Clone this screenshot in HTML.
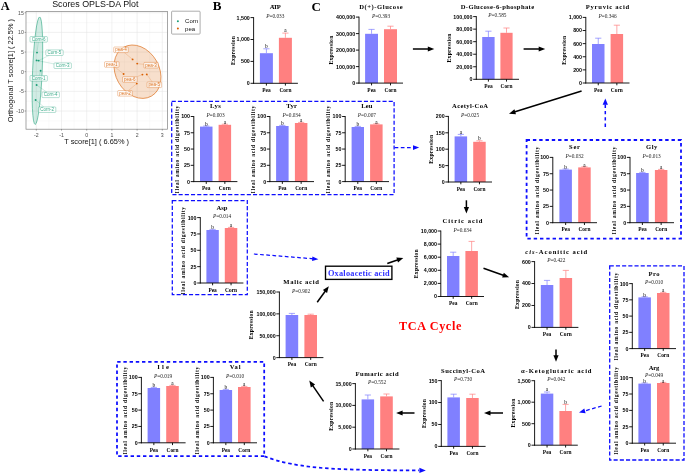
<!DOCTYPE html>
<html><head><meta charset="utf-8"><title>Figure</title>
<style>html,body{margin:0;padding:0;background:#fff;}svg{display:block;will-change:transform}text{white-space:pre}</style></head>
<body><svg width="685" height="474" viewBox="0 0 685 474">
<rect width="685" height="474" fill="#fff"/>
<rect x="26.0" y="11.6" width="141.4" height="117.6" fill="#fff"/>
<path d="M48.90 11.6V129.2M74.10 11.6V129.2M99.30 11.6V129.2M124.50 11.6V129.2M149.70 11.6V129.2M26.0 120.83H167.4M26.0 101.18H167.4M26.0 81.53H167.4M26.0 61.88H167.4M26.0 42.23H167.4M26.0 22.58H167.4" stroke="#f3f3f3" stroke-width="0.4" fill="none"/>
<path d="M36.30 11.6V129.2M61.50 11.6V129.2M86.70 11.6V129.2M111.90 11.6V129.2M137.10 11.6V129.2M162.30 11.6V129.2M26.0 111.00H167.4M26.0 91.35H167.4M26.0 71.70H167.4M26.0 52.05H167.4M26.0 32.40H167.4M26.0 12.75H167.4" stroke="#e6e6e6" stroke-width="0.55" fill="none"/>
<ellipse cx="37.4" cy="70.7" rx="4.8" ry="53.8" transform="rotate(2.4 37.4 70.7)" fill="#1b9e77" fill-opacity="0.2" stroke="#1b9e77" stroke-width="0.55"/>
<ellipse cx="137.5" cy="71.7" rx="28.1" ry="21.8" transform="rotate(60.4 137.5 71.7)" fill="#d95f02" fill-opacity="0.2" stroke="#d95f02" stroke-width="0.55"/>
<path d="M37 52.6L38.34 42.10M38.6 60.6L48.86 55.50M36.6 60.4L54.00 63.93M40.6 70.8L39.41 75.50M36.6 85L46.67 92.00M35.6 100L43.78 106.90" stroke="#1b9e77" stroke-width="0.35" fill="none" stroke-opacity="0.55"/>
<circle cx="37" cy="52.6" r="0.95" fill="#1b9e77"/>
<circle cx="36.6" cy="60.4" r="0.95" fill="#1b9e77"/>
<circle cx="38.6" cy="60.6" r="0.95" fill="#1b9e77"/>
<circle cx="40.6" cy="70.8" r="0.95" fill="#1b9e77"/>
<circle cx="36.6" cy="85" r="0.95" fill="#1b9e77"/>
<circle cx="35.6" cy="100" r="0.95" fill="#1b9e77"/>
<rect x="30.00" y="36.50" width="17.4" height="5.6" rx="0.9" fill="#fff" fill-opacity="0.65" stroke="#1b9e77" stroke-width="0.4" stroke-opacity="0.8"/>
<text x="38.70" y="40.85" font-family="Liberation Sans" font-size="4.5" text-anchor="middle" fill="#1b9e77" fill-opacity="0.85">Corn-6</text>
<rect x="45.80" y="49.90" width="17.4" height="5.6" rx="0.9" fill="#fff" fill-opacity="0.65" stroke="#1b9e77" stroke-width="0.4" stroke-opacity="0.8"/>
<text x="54.50" y="54.25" font-family="Liberation Sans" font-size="4.5" text-anchor="middle" fill="#1b9e77" fill-opacity="0.85">Corn-5</text>
<rect x="54.00" y="62.90" width="17.4" height="5.6" rx="0.9" fill="#fff" fill-opacity="0.65" stroke="#1b9e77" stroke-width="0.4" stroke-opacity="0.8"/>
<text x="62.70" y="67.25" font-family="Liberation Sans" font-size="4.5" text-anchor="middle" fill="#1b9e77" fill-opacity="0.85">Corn-3</text>
<rect x="30.00" y="75.50" width="17.4" height="5.6" rx="0.9" fill="#fff" fill-opacity="0.65" stroke="#1b9e77" stroke-width="0.4" stroke-opacity="0.8"/>
<text x="38.70" y="79.85" font-family="Liberation Sans" font-size="4.5" text-anchor="middle" fill="#1b9e77" fill-opacity="0.85">Corn-1</text>
<rect x="42.00" y="92.00" width="17.4" height="5.6" rx="0.9" fill="#fff" fill-opacity="0.65" stroke="#1b9e77" stroke-width="0.4" stroke-opacity="0.8"/>
<text x="50.70" y="96.35" font-family="Liberation Sans" font-size="4.5" text-anchor="middle" fill="#1b9e77" fill-opacity="0.85">Corn-4</text>
<rect x="38.40" y="106.90" width="17.4" height="5.6" rx="0.9" fill="#fff" fill-opacity="0.65" stroke="#1b9e77" stroke-width="0.4" stroke-opacity="0.8"/>
<text x="47.10" y="111.25" font-family="Liberation Sans" font-size="4.5" text-anchor="middle" fill="#1b9e77" fill-opacity="0.85">Corn-2</text>
<path d="M132.6 59.4L124.38 52.60M123.6 74L115.28 67.30M137.2 63.6L143.80 64.36M142.4 74.6L137.00 76.70M146.8 74.4L152.28 82.00M136.8 83.6L128.41 90.50" stroke="#d95f02" stroke-width="0.35" fill="none" stroke-opacity="0.55"/>
<circle cx="132.6" cy="59.4" r="0.95" fill="#d95f02"/>
<circle cx="137.2" cy="63.6" r="0.95" fill="#d95f02"/>
<circle cx="123.6" cy="74" r="0.95" fill="#d95f02"/>
<circle cx="142.4" cy="74.6" r="0.95" fill="#d95f02"/>
<circle cx="146.8" cy="74.4" r="0.95" fill="#d95f02"/>
<circle cx="136.8" cy="83.6" r="0.95" fill="#d95f02"/>
<rect x="113.70" y="47.00" width="14.6" height="5.6" rx="0.9" fill="#fff" fill-opacity="0.65" stroke="#d95f02" stroke-width="0.4" stroke-opacity="0.8"/>
<text x="121.00" y="51.35" font-family="Liberation Sans" font-size="4.5" text-anchor="middle" fill="#d95f02" fill-opacity="0.85">pea-4</text>
<rect x="104.50" y="61.70" width="14.6" height="5.6" rx="0.9" fill="#fff" fill-opacity="0.65" stroke="#d95f02" stroke-width="0.4" stroke-opacity="0.8"/>
<text x="111.80" y="66.05" font-family="Liberation Sans" font-size="4.5" text-anchor="middle" fill="#d95f02" fill-opacity="0.85">pea-1</text>
<rect x="143.80" y="62.40" width="14.6" height="5.6" rx="0.9" fill="#fff" fill-opacity="0.65" stroke="#d95f02" stroke-width="0.4" stroke-opacity="0.8"/>
<text x="151.10" y="66.75" font-family="Liberation Sans" font-size="4.5" text-anchor="middle" fill="#d95f02" fill-opacity="0.85">pea-3</text>
<rect x="122.50" y="76.70" width="14.6" height="5.6" rx="0.9" fill="#fff" fill-opacity="0.65" stroke="#d95f02" stroke-width="0.4" stroke-opacity="0.8"/>
<text x="129.80" y="81.05" font-family="Liberation Sans" font-size="4.5" text-anchor="middle" fill="#d95f02" fill-opacity="0.85">pea-6</text>
<rect x="147.00" y="82.00" width="14.6" height="5.6" rx="0.9" fill="#fff" fill-opacity="0.65" stroke="#d95f02" stroke-width="0.4" stroke-opacity="0.8"/>
<text x="154.30" y="86.35" font-family="Liberation Sans" font-size="4.5" text-anchor="middle" fill="#d95f02" fill-opacity="0.85">pea-5</text>
<rect x="117.70" y="90.50" width="14.6" height="5.6" rx="0.9" fill="#fff" fill-opacity="0.65" stroke="#d95f02" stroke-width="0.4" stroke-opacity="0.8"/>
<text x="125.00" y="94.85" font-family="Liberation Sans" font-size="4.5" text-anchor="middle" fill="#d95f02" fill-opacity="0.85">pea-2</text>
<rect x="26.0" y="11.6" width="141.4" height="117.6" fill="none" stroke="#808080" stroke-width="0.7"/>
<path d="M36.30 129.2v1.4M61.50 129.2v1.4M86.70 129.2v1.4M111.90 129.2v1.4M137.10 129.2v1.4M162.30 129.2v1.4M26.0 111.00h-1.4M26.0 91.35h-1.4M26.0 71.70h-1.4M26.0 52.05h-1.4M26.0 32.40h-1.4M26.0 12.75h-1.4" stroke="#555" stroke-width="0.5" fill="none"/>
<text x="36.30" y="136.50" font-family="Liberation Sans" font-size="5.2" text-anchor="middle" fill="#4d4d4d" >-2</text>
<text x="61.50" y="136.50" font-family="Liberation Sans" font-size="5.2" text-anchor="middle" fill="#4d4d4d" >-1</text>
<text x="86.70" y="136.50" font-family="Liberation Sans" font-size="5.2" text-anchor="middle" fill="#4d4d4d" >0</text>
<text x="111.90" y="136.50" font-family="Liberation Sans" font-size="5.2" text-anchor="middle" fill="#4d4d4d" >1</text>
<text x="137.10" y="136.50" font-family="Liberation Sans" font-size="5.2" text-anchor="middle" fill="#4d4d4d" >2</text>
<text x="162.30" y="136.50" font-family="Liberation Sans" font-size="5.2" text-anchor="middle" fill="#4d4d4d" >3</text>
<text x="23.80" y="112.80" font-family="Liberation Sans" font-size="5.2" text-anchor="end" fill="#4d4d4d" >-10</text>
<text x="23.80" y="93.15" font-family="Liberation Sans" font-size="5.2" text-anchor="end" fill="#4d4d4d" >-5</text>
<text x="23.80" y="73.50" font-family="Liberation Sans" font-size="5.2" text-anchor="end" fill="#4d4d4d" >0</text>
<text x="23.80" y="53.85" font-family="Liberation Sans" font-size="5.2" text-anchor="end" fill="#4d4d4d" >5</text>
<text x="23.80" y="34.20" font-family="Liberation Sans" font-size="5.2" text-anchor="end" fill="#4d4d4d" >10</text>
<text x="23.80" y="14.55" font-family="Liberation Sans" font-size="5.2" text-anchor="end" fill="#4d4d4d" >15</text>
<text x="96.60" y="143.80" font-family="Liberation Sans" font-size="7.4" text-anchor="middle" fill="#111" >T score[1] ( 6.65% )</text>
<text x="13.00" y="70.60" font-family="Liberation Sans" font-size="7.4" text-anchor="middle" fill="#111" transform="rotate(-90 13.00 70.60)" >Orthogonal T score[1] ( 22.5% )</text>
<text x="95.30" y="7.20" font-family="Liberation Sans" font-size="8.9" text-anchor="middle" fill="#111" >Scores OPLS-DA Plot</text>
<rect x="171.6" y="11.2" width="28.5" height="22.9" rx="0.8" fill="#fff" stroke="#8a8a8a" stroke-width="0.7"/>
<circle cx="177.9" cy="21.2" r="1.0" fill="#1b9e77"/><circle cx="177.9" cy="28.6" r="1.0" fill="#d95f02"/>
<text x="185.10" y="23.10" font-family="Liberation Sans" font-size="6.0" text-anchor="start" fill="#111" >Corn</text>
<text x="185.10" y="30.50" font-family="Liberation Sans" font-size="6.0" text-anchor="start" fill="#111" >pea</text>
<text x="0.80" y="9.70" font-family="Liberation Serif" font-size="12.4" text-anchor="start" fill="#000" font-weight="bold" >A</text>
<text x="212.80" y="10.40" font-family="Liberation Serif" font-size="13" text-anchor="start" fill="#000" font-weight="bold" >B</text>
<text x="311.60" y="10.50" font-family="Liberation Serif" font-size="13" text-anchor="start" fill="#000" font-weight="bold" >C</text>
<path d="M266.40 53.20V48.80M263.30 48.80H269.50" stroke="#8080ff" stroke-width="0.7" fill="none"/>
<path d="M285.40 37.80V33.10M282.30 33.10H288.50" stroke="#ff8080" stroke-width="0.7" fill="none"/>
<rect x="259.90" y="53.20" width="13.00" height="30.10" fill="#8080ff"/>
<rect x="278.90" y="37.80" width="13.00" height="45.50" fill="#ff8080"/>
<path d="M253.60 17.15V83.75M253.15 83.30H297.90M250.50 83.30H253.60M250.50 61.40H253.60M250.50 39.50H253.60M250.50 17.60H253.60M266.40 83.30v2.3M285.40 83.30v2.3" stroke="#000" stroke-width="0.9" fill="none"/>
<text x="249.80" y="85.20" font-family="Liberation Sans" font-size="5.3" text-anchor="end" fill="#000" font-weight="bold" >0</text>
<text x="249.80" y="63.30" font-family="Liberation Sans" font-size="5.3" text-anchor="end" fill="#000" font-weight="bold" >500</text>
<text x="249.80" y="41.40" font-family="Liberation Sans" font-size="5.3" text-anchor="end" fill="#000" font-weight="bold" >1,000</text>
<text x="249.80" y="19.50" font-family="Liberation Sans" font-size="5.3" text-anchor="end" fill="#000" font-weight="bold" >1,500</text>
<text x="266.40" y="92.00" font-family="Liberation Serif" font-size="5.4" text-anchor="middle" fill="#000" font-weight="bold" >Pea</text>
<text x="285.40" y="92.00" font-family="Liberation Serif" font-size="5.4" text-anchor="middle" fill="#000" font-weight="bold" >Corn</text>
<text x="274.90" y="9.20" font-family="Liberation Serif" font-size="6.6" text-anchor="middle" fill="#000" font-weight="bold" letter-spacing="-0.805" >ATP</text>
<text x="275.30" y="17.90" font-family="Liberation Serif" font-size="5.3" text-anchor="middle" fill="#222" ><tspan font-style="italic">P</tspan>=0.033</text>
<text x="234.72" y="50.45" font-family="Liberation Serif" font-size="5.7" text-anchor="middle" fill="#000" font-weight="bold" letter-spacing="0.242" transform="rotate(-90 234.60 50.45)" >Expression</text>
<text x="266.40" y="47.70" font-family="Liberation Serif" font-size="5.3" text-anchor="middle" fill="#000" >b</text>
<text x="285.40" y="31.50" font-family="Liberation Serif" font-size="5.3" text-anchor="middle" fill="#000" >a</text>
<path d="M371.55 33.80V29.40M368.45 29.40H374.65" stroke="#8080ff" stroke-width="0.7" fill="none"/>
<path d="M390.50 29.20V26.20M387.40 26.20H393.60" stroke="#ff8080" stroke-width="0.7" fill="none"/>
<rect x="365.10" y="33.80" width="12.90" height="49.30" fill="#8080ff"/>
<rect x="384.00" y="29.20" width="13.00" height="53.90" fill="#ff8080"/>
<path d="M359.00 16.65V83.55M358.55 83.10H403.00M355.90 83.10H359.00M355.90 66.60H359.00M355.90 50.10H359.00M355.90 33.60H359.00M355.90 17.10H359.00M371.55 83.10v2.3M390.50 83.10v2.3" stroke="#000" stroke-width="0.9" fill="none"/>
<text x="355.20" y="85.00" font-family="Liberation Sans" font-size="5.3" text-anchor="end" fill="#000" font-weight="bold" >0</text>
<text x="355.20" y="68.50" font-family="Liberation Sans" font-size="5.3" text-anchor="end" fill="#000" font-weight="bold" >100,000</text>
<text x="355.20" y="52.00" font-family="Liberation Sans" font-size="5.3" text-anchor="end" fill="#000" font-weight="bold" >200,000</text>
<text x="355.20" y="35.50" font-family="Liberation Sans" font-size="5.3" text-anchor="end" fill="#000" font-weight="bold" >300,000</text>
<text x="355.20" y="19.00" font-family="Liberation Sans" font-size="5.3" text-anchor="end" fill="#000" font-weight="bold" >400,000</text>
<text x="371.55" y="91.80" font-family="Liberation Serif" font-size="5.4" text-anchor="middle" fill="#000" font-weight="bold" >Pea</text>
<text x="390.50" y="91.80" font-family="Liberation Serif" font-size="5.4" text-anchor="middle" fill="#000" font-weight="bold" >Corn</text>
<text x="381.27" y="9.00" font-family="Liberation Serif" font-size="6.6" text-anchor="middle" fill="#000" font-weight="bold" letter-spacing="0.547" >D(+)-Glucose</text>
<text x="381.00" y="17.70" font-family="Liberation Serif" font-size="5.3" text-anchor="middle" fill="#222" ><tspan font-style="italic">P</tspan>=0.393</text>
<text x="333.42" y="50.10" font-family="Liberation Serif" font-size="5.7" text-anchor="middle" fill="#000" font-weight="bold" letter-spacing="0.242" transform="rotate(-90 333.30 50.10)" >Expression</text>
<path d="M488.40 37.00V31.20M485.30 31.20H491.50" stroke="#8080ff" stroke-width="0.7" fill="none"/>
<path d="M506.50 32.80V28.00M503.40 28.00H509.60" stroke="#ff8080" stroke-width="0.7" fill="none"/>
<rect x="482.20" y="37.00" width="12.40" height="42.30" fill="#8080ff"/>
<rect x="500.40" y="32.80" width="12.20" height="46.50" fill="#ff8080"/>
<path d="M476.30 16.15V79.75M475.85 79.30H519.00M473.20 79.30H476.30M473.20 66.76H476.30M473.20 54.22H476.30M473.20 41.68H476.30M473.20 29.14H476.30M473.20 16.60H476.30M488.40 79.30v2.3M506.50 79.30v2.3" stroke="#000" stroke-width="0.9" fill="none"/>
<text x="472.50" y="81.20" font-family="Liberation Sans" font-size="5.3" text-anchor="end" fill="#000" font-weight="bold" >0</text>
<text x="472.50" y="68.66" font-family="Liberation Sans" font-size="5.3" text-anchor="end" fill="#000" font-weight="bold" >20,000</text>
<text x="472.50" y="56.12" font-family="Liberation Sans" font-size="5.3" text-anchor="end" fill="#000" font-weight="bold" >40,000</text>
<text x="472.50" y="43.58" font-family="Liberation Sans" font-size="5.3" text-anchor="end" fill="#000" font-weight="bold" >60,000</text>
<text x="472.50" y="31.04" font-family="Liberation Sans" font-size="5.3" text-anchor="end" fill="#000" font-weight="bold" >80,000</text>
<text x="472.50" y="18.50" font-family="Liberation Sans" font-size="5.3" text-anchor="end" fill="#000" font-weight="bold" >100,000</text>
<text x="488.40" y="88.00" font-family="Liberation Serif" font-size="5.4" text-anchor="middle" fill="#000" font-weight="bold" >Pea</text>
<text x="506.50" y="88.00" font-family="Liberation Serif" font-size="5.4" text-anchor="middle" fill="#000" font-weight="bold" >Corn</text>
<text x="497.59" y="8.50" font-family="Liberation Serif" font-size="6.6" text-anchor="middle" fill="#000" font-weight="bold" letter-spacing="0.375" >D-Glucose-6-phosphate</text>
<text x="497.40" y="17.20" font-family="Liberation Serif" font-size="5.3" text-anchor="middle" fill="#222" ><tspan font-style="italic">P</tspan>=0.585</text>
<text x="451.42" y="47.95" font-family="Liberation Serif" font-size="5.7" text-anchor="middle" fill="#000" font-weight="bold" letter-spacing="0.242" transform="rotate(-90 451.30 47.95)" >Expression</text>
<path d="M598.25 44.00V38.20M595.15 38.20H601.35" stroke="#8080ff" stroke-width="0.7" fill="none"/>
<path d="M616.85 34.00V25.20M613.75 25.20H619.95" stroke="#ff8080" stroke-width="0.7" fill="none"/>
<rect x="592.00" y="44.00" width="12.50" height="39.00" fill="#8080ff"/>
<rect x="610.60" y="34.00" width="12.50" height="49.00" fill="#ff8080"/>
<path d="M585.80 16.95V83.45M585.35 83.00H629.50M582.70 83.00H585.80M582.70 69.88H585.80M582.70 56.76H585.80M582.70 43.64H585.80M582.70 30.52H585.80M582.70 17.40H585.80M598.25 83.00v2.3M616.85 83.00v2.3" stroke="#000" stroke-width="0.9" fill="none"/>
<text x="582.00" y="84.90" font-family="Liberation Sans" font-size="5.3" text-anchor="end" fill="#000" font-weight="bold" >0</text>
<text x="582.00" y="71.78" font-family="Liberation Sans" font-size="5.3" text-anchor="end" fill="#000" font-weight="bold" >200</text>
<text x="582.00" y="58.66" font-family="Liberation Sans" font-size="5.3" text-anchor="end" fill="#000" font-weight="bold" >400</text>
<text x="582.00" y="45.54" font-family="Liberation Sans" font-size="5.3" text-anchor="end" fill="#000" font-weight="bold" >600</text>
<text x="582.00" y="32.42" font-family="Liberation Sans" font-size="5.3" text-anchor="end" fill="#000" font-weight="bold" >800</text>
<text x="582.00" y="19.30" font-family="Liberation Sans" font-size="5.3" text-anchor="end" fill="#000" font-weight="bold" >1,000</text>
<text x="598.25" y="91.70" font-family="Liberation Serif" font-size="5.4" text-anchor="middle" fill="#000" font-weight="bold" >Pea</text>
<text x="616.85" y="91.70" font-family="Liberation Serif" font-size="5.4" text-anchor="middle" fill="#000" font-weight="bold" >Corn</text>
<text x="607.87" y="9.30" font-family="Liberation Serif" font-size="6.6" text-anchor="middle" fill="#000" font-weight="bold" letter-spacing="0.738" >Pyruvic acid</text>
<text x="607.50" y="18.00" font-family="Liberation Serif" font-size="5.3" text-anchor="middle" fill="#222" ><tspan font-style="italic">P</tspan>=0.346</text>
<text x="566.02" y="50.20" font-family="Liberation Serif" font-size="5.7" text-anchor="middle" fill="#000" font-weight="bold" letter-spacing="0.242" transform="rotate(-90 565.90 50.20)" >Expression</text>
<path d="M460.85 136.40V134.40M457.75 134.40H463.95" stroke="#8080ff" stroke-width="0.7" fill="none"/>
<path d="M479.45 141.80V140.80M476.35 140.80H482.55" stroke="#ff8080" stroke-width="0.7" fill="none"/>
<rect x="454.60" y="136.40" width="12.50" height="45.60" fill="#8080ff"/>
<rect x="473.20" y="141.80" width="12.50" height="40.20" fill="#ff8080"/>
<path d="M448.40 115.95V182.45M447.95 182.00H492.00M445.30 182.00H448.40M445.30 165.60H448.40M445.30 149.20H448.40M445.30 132.80H448.40M445.30 116.40H448.40M460.85 182.00v2.3M479.45 182.00v2.3" stroke="#000" stroke-width="0.9" fill="none"/>
<text x="444.60" y="183.90" font-family="Liberation Sans" font-size="5.3" text-anchor="end" fill="#000" font-weight="bold" >0</text>
<text x="444.60" y="167.50" font-family="Liberation Sans" font-size="5.3" text-anchor="end" fill="#000" font-weight="bold" >50</text>
<text x="444.60" y="151.10" font-family="Liberation Sans" font-size="5.3" text-anchor="end" fill="#000" font-weight="bold" >100</text>
<text x="444.60" y="134.70" font-family="Liberation Sans" font-size="5.3" text-anchor="end" fill="#000" font-weight="bold" >150</text>
<text x="444.60" y="118.30" font-family="Liberation Sans" font-size="5.3" text-anchor="end" fill="#000" font-weight="bold" >200</text>
<text x="460.85" y="190.70" font-family="Liberation Serif" font-size="5.4" text-anchor="middle" fill="#000" font-weight="bold" >Pea</text>
<text x="479.45" y="190.70" font-family="Liberation Serif" font-size="5.4" text-anchor="middle" fill="#000" font-weight="bold" >Corn</text>
<text x="470.27" y="108.30" font-family="Liberation Serif" font-size="6.6" text-anchor="middle" fill="#000" font-weight="bold" letter-spacing="0.346" >Acetyl-CoA</text>
<text x="470.10" y="117.00" font-family="Liberation Serif" font-size="5.3" text-anchor="middle" fill="#222" ><tspan font-style="italic">P</tspan>=0.025</text>
<text x="433.42" y="149.20" font-family="Liberation Serif" font-size="5.7" text-anchor="middle" fill="#000" font-weight="bold" letter-spacing="0.242" transform="rotate(-90 433.30 149.20)" >Expression</text>
<text x="460.85" y="133.70" font-family="Liberation Serif" font-size="5.3" text-anchor="middle" fill="#000" >a</text>
<text x="479.45" y="140.10" font-family="Liberation Serif" font-size="5.3" text-anchor="middle" fill="#000" >b</text>
<path d="M453.20 256.00V252.20M450.10 252.20H456.30" stroke="#8080ff" stroke-width="0.7" fill="none"/>
<path d="M471.65 251.00V241.40M468.55 241.40H474.75" stroke="#ff8080" stroke-width="0.7" fill="none"/>
<rect x="447.00" y="256.00" width="12.40" height="40.50" fill="#8080ff"/>
<rect x="465.40" y="251.00" width="12.50" height="45.50" fill="#ff8080"/>
<path d="M440.80 230.55V296.95M440.35 296.50H484.00M437.70 296.50H440.80M437.70 283.40H440.80M437.70 270.30H440.80M437.70 257.20H440.80M437.70 244.10H440.80M437.70 231.00H440.80M453.20 296.50v2.3M471.65 296.50v2.3" stroke="#000" stroke-width="0.9" fill="none"/>
<text x="437.00" y="298.40" font-family="Liberation Sans" font-size="5.3" text-anchor="end" fill="#000" font-weight="bold" >0</text>
<text x="437.00" y="285.30" font-family="Liberation Sans" font-size="5.3" text-anchor="end" fill="#000" font-weight="bold" >2,000</text>
<text x="437.00" y="272.20" font-family="Liberation Sans" font-size="5.3" text-anchor="end" fill="#000" font-weight="bold" >4,000</text>
<text x="437.00" y="259.10" font-family="Liberation Sans" font-size="5.3" text-anchor="end" fill="#000" font-weight="bold" >6,000</text>
<text x="437.00" y="246.00" font-family="Liberation Sans" font-size="5.3" text-anchor="end" fill="#000" font-weight="bold" >8,000</text>
<text x="437.00" y="232.90" font-family="Liberation Sans" font-size="5.3" text-anchor="end" fill="#000" font-weight="bold" >10,000</text>
<text x="453.20" y="305.20" font-family="Liberation Serif" font-size="5.4" text-anchor="middle" fill="#000" font-weight="bold" >Pea</text>
<text x="471.65" y="305.20" font-family="Liberation Serif" font-size="5.4" text-anchor="middle" fill="#000" font-weight="bold" >Corn</text>
<text x="463.01" y="222.90" font-family="Liberation Serif" font-size="6.6" text-anchor="middle" fill="#000" font-weight="bold" letter-spacing="1.023" >Citric acid</text>
<text x="462.50" y="231.60" font-family="Liberation Serif" font-size="5.3" text-anchor="middle" fill="#222" ><tspan font-style="italic">P</tspan>=0.634</text>
<text x="418.02" y="263.75" font-family="Liberation Serif" font-size="5.7" text-anchor="middle" fill="#000" font-weight="bold" letter-spacing="0.242" transform="rotate(-90 417.90 263.75)" >Expression</text>
<path d="M547.05 285.00V280.40M543.95 280.40H550.15" stroke="#8080ff" stroke-width="0.7" fill="none"/>
<path d="M565.85 278.00V270.40M562.75 270.40H568.95" stroke="#ff8080" stroke-width="0.7" fill="none"/>
<rect x="540.80" y="285.00" width="12.50" height="42.40" fill="#8080ff"/>
<rect x="559.60" y="278.00" width="12.50" height="49.40" fill="#ff8080"/>
<path d="M534.60 261.15V327.85M534.15 327.40H578.40M531.50 327.40H534.60M531.50 305.47H534.60M531.50 283.53H534.60M531.50 261.60H534.60M547.05 327.40v2.3M565.85 327.40v2.3" stroke="#000" stroke-width="0.9" fill="none"/>
<text x="530.80" y="329.30" font-family="Liberation Sans" font-size="5.3" text-anchor="end" fill="#000" font-weight="bold" >0</text>
<text x="530.80" y="307.37" font-family="Liberation Sans" font-size="5.3" text-anchor="end" fill="#000" font-weight="bold" >200</text>
<text x="530.80" y="285.43" font-family="Liberation Sans" font-size="5.3" text-anchor="end" fill="#000" font-weight="bold" >400</text>
<text x="530.80" y="263.50" font-family="Liberation Sans" font-size="5.3" text-anchor="end" fill="#000" font-weight="bold" >600</text>
<text x="547.05" y="336.10" font-family="Liberation Serif" font-size="5.4" text-anchor="middle" fill="#000" font-weight="bold" >Pea</text>
<text x="565.85" y="336.10" font-family="Liberation Serif" font-size="5.4" text-anchor="middle" fill="#000" font-weight="bold" >Corn</text>
<text x="556.79" y="253.50" font-family="Liberation Serif" font-size="6.6" text-anchor="middle" fill="#000" font-weight="bold" letter-spacing="0.970" ><tspan font-style="italic">cis</tspan>-Aconitic acid</text>
<text x="556.30" y="262.20" font-family="Liberation Serif" font-size="5.3" text-anchor="middle" fill="#222" ><tspan font-style="italic">P</tspan>=0.422</text>
<text x="519.02" y="294.50" font-family="Liberation Serif" font-size="5.7" text-anchor="middle" fill="#000" font-weight="bold" letter-spacing="0.242" transform="rotate(-90 518.90 294.50)" >Expression</text>
<path d="M547.05 393.60V392.00M543.95 392.00H550.15" stroke="#8080ff" stroke-width="0.7" fill="none"/>
<path d="M565.60 411.00V404.40M562.50 404.40H568.70" stroke="#ff8080" stroke-width="0.7" fill="none"/>
<rect x="540.80" y="393.60" width="12.50" height="51.60" fill="#8080ff"/>
<rect x="559.40" y="411.00" width="12.40" height="34.20" fill="#ff8080"/>
<path d="M534.60 380.25V445.65M534.15 445.20H577.80M531.50 445.20H534.60M531.50 423.70H534.60M531.50 402.20H534.60M531.50 380.70H534.60M547.05 445.20v2.3M565.60 445.20v2.3" stroke="#000" stroke-width="0.9" fill="none"/>
<text x="530.80" y="447.10" font-family="Liberation Sans" font-size="5.3" text-anchor="end" fill="#000" font-weight="bold" >0</text>
<text x="530.80" y="425.60" font-family="Liberation Sans" font-size="5.3" text-anchor="end" fill="#000" font-weight="bold" >500</text>
<text x="530.80" y="404.10" font-family="Liberation Sans" font-size="5.3" text-anchor="end" fill="#000" font-weight="bold" >1,000</text>
<text x="530.80" y="382.60" font-family="Liberation Sans" font-size="5.3" text-anchor="end" fill="#000" font-weight="bold" >1,500</text>
<text x="547.05" y="453.90" font-family="Liberation Serif" font-size="5.4" text-anchor="middle" fill="#000" font-weight="bold" >Pea</text>
<text x="565.60" y="453.90" font-family="Liberation Serif" font-size="5.4" text-anchor="middle" fill="#000" font-weight="bold" >Corn</text>
<text x="556.74" y="372.60" font-family="Liberation Serif" font-size="6.6" text-anchor="middle" fill="#000" font-weight="bold" letter-spacing="0.871" >α-Ketoglutaric acid</text>
<text x="556.30" y="381.30" font-family="Liberation Serif" font-size="5.3" text-anchor="middle" fill="#222" ><tspan font-style="italic">P</tspan>=0.042</text>
<text x="515.62" y="412.95" font-family="Liberation Serif" font-size="5.7" text-anchor="middle" fill="#000" font-weight="bold" letter-spacing="0.242" transform="rotate(-90 515.50 412.95)" >Expression</text>
<text x="547.05" y="391.10" font-family="Liberation Serif" font-size="5.3" text-anchor="middle" fill="#000" >a</text>
<text x="565.60" y="403.70" font-family="Liberation Serif" font-size="5.3" text-anchor="middle" fill="#000" >b</text>
<path d="M453.65 397.40V394.20M450.55 394.20H456.75" stroke="#8080ff" stroke-width="0.7" fill="none"/>
<path d="M472.45 398.00V394.20M469.35 394.20H475.55" stroke="#ff8080" stroke-width="0.7" fill="none"/>
<rect x="447.40" y="397.40" width="12.50" height="49.00" fill="#8080ff"/>
<rect x="466.20" y="398.00" width="12.50" height="48.40" fill="#ff8080"/>
<path d="M441.30 380.15V446.85M440.85 446.40H485.60M438.20 446.40H441.30M438.20 424.47H441.30M438.20 402.53H441.30M438.20 380.60H441.30M453.65 446.40v2.3M472.45 446.40v2.3" stroke="#000" stroke-width="0.9" fill="none"/>
<text x="437.50" y="448.30" font-family="Liberation Sans" font-size="5.3" text-anchor="end" fill="#000" font-weight="bold" >0</text>
<text x="437.50" y="426.37" font-family="Liberation Sans" font-size="5.3" text-anchor="end" fill="#000" font-weight="bold" >50</text>
<text x="437.50" y="404.43" font-family="Liberation Sans" font-size="5.3" text-anchor="end" fill="#000" font-weight="bold" >100</text>
<text x="437.50" y="382.50" font-family="Liberation Sans" font-size="5.3" text-anchor="end" fill="#000" font-weight="bold" >150</text>
<text x="453.65" y="455.10" font-family="Liberation Serif" font-size="5.4" text-anchor="middle" fill="#000" font-weight="bold" >Pea</text>
<text x="472.45" y="455.10" font-family="Liberation Serif" font-size="5.4" text-anchor="middle" fill="#000" font-weight="bold" >Corn</text>
<text x="463.23" y="372.50" font-family="Liberation Serif" font-size="6.6" text-anchor="middle" fill="#000" font-weight="bold" letter-spacing="0.457" >Succinyl-CoA</text>
<text x="463.00" y="381.20" font-family="Liberation Serif" font-size="5.3" text-anchor="middle" fill="#222" ><tspan font-style="italic">P</tspan>=0.730</text>
<text x="425.62" y="413.50" font-family="Liberation Serif" font-size="5.7" text-anchor="middle" fill="#000" font-weight="bold" letter-spacing="0.242" transform="rotate(-90 425.50 413.50)" >Expression</text>
<path d="M367.85 399.40V395.00M364.75 395.00H370.95" stroke="#8080ff" stroke-width="0.7" fill="none"/>
<path d="M386.50 396.40V394.00M383.40 394.00H389.60" stroke="#ff8080" stroke-width="0.7" fill="none"/>
<rect x="361.60" y="399.40" width="12.50" height="49.60" fill="#8080ff"/>
<rect x="380.20" y="396.40" width="12.60" height="52.60" fill="#ff8080"/>
<path d="M355.40 383.15V449.45M354.95 449.00H399.40M352.30 449.00H355.40M352.30 427.20H355.40M352.30 405.40H355.40M352.30 383.60H355.40M367.85 449.00v2.3M386.50 449.00v2.3" stroke="#000" stroke-width="0.9" fill="none"/>
<text x="351.60" y="450.90" font-family="Liberation Sans" font-size="5.3" text-anchor="end" fill="#000" font-weight="bold" >0</text>
<text x="351.60" y="429.10" font-family="Liberation Sans" font-size="5.3" text-anchor="end" fill="#000" font-weight="bold" >5,000</text>
<text x="351.60" y="407.30" font-family="Liberation Sans" font-size="5.3" text-anchor="end" fill="#000" font-weight="bold" >10,000</text>
<text x="351.60" y="385.50" font-family="Liberation Sans" font-size="5.3" text-anchor="end" fill="#000" font-weight="bold" >15,000</text>
<text x="367.85" y="457.70" font-family="Liberation Serif" font-size="5.4" text-anchor="middle" fill="#000" font-weight="bold" >Pea</text>
<text x="386.50" y="457.70" font-family="Liberation Serif" font-size="5.4" text-anchor="middle" fill="#000" font-weight="bold" >Corn</text>
<text x="377.35" y="375.50" font-family="Liberation Serif" font-size="6.6" text-anchor="middle" fill="#000" font-weight="bold" letter-spacing="0.502" >Fumaric acid</text>
<text x="377.10" y="384.20" font-family="Liberation Serif" font-size="5.3" text-anchor="middle" fill="#222" ><tspan font-style="italic">P</tspan>=0.552</text>
<text x="333.02" y="416.30" font-family="Liberation Serif" font-size="5.7" text-anchor="middle" fill="#000" font-weight="bold" letter-spacing="0.242" transform="rotate(-90 332.90 416.30)" >Expression</text>
<path d="M291.90 315.00V313.40M288.80 313.40H295.00" stroke="#8080ff" stroke-width="0.7" fill="none"/>
<path d="M310.70 315.00V314.20M307.60 314.20H313.80" stroke="#ff8080" stroke-width="0.7" fill="none"/>
<rect x="285.60" y="315.00" width="12.60" height="42.60" fill="#8080ff"/>
<rect x="304.40" y="315.00" width="12.60" height="42.60" fill="#ff8080"/>
<path d="M279.40 291.55V358.05M278.95 357.60H323.40M276.30 357.60H279.40M276.30 335.73H279.40M276.30 313.87H279.40M276.30 292.00H279.40M291.90 357.60v2.3M310.70 357.60v2.3" stroke="#000" stroke-width="0.9" fill="none"/>
<text x="275.60" y="359.50" font-family="Liberation Sans" font-size="5.3" text-anchor="end" fill="#000" font-weight="bold" >0</text>
<text x="275.60" y="337.63" font-family="Liberation Sans" font-size="5.3" text-anchor="end" fill="#000" font-weight="bold" >50,000</text>
<text x="275.60" y="315.77" font-family="Liberation Sans" font-size="5.3" text-anchor="end" fill="#000" font-weight="bold" >100,000</text>
<text x="275.60" y="293.90" font-family="Liberation Sans" font-size="5.3" text-anchor="end" fill="#000" font-weight="bold" >150,000</text>
<text x="291.90" y="366.30" font-family="Liberation Serif" font-size="5.4" text-anchor="middle" fill="#000" font-weight="bold" >Pea</text>
<text x="310.70" y="366.30" font-family="Liberation Serif" font-size="5.4" text-anchor="middle" fill="#000" font-weight="bold" >Corn</text>
<text x="301.43" y="283.90" font-family="Liberation Serif" font-size="6.6" text-anchor="middle" fill="#000" font-weight="bold" letter-spacing="0.666" >Malic acid</text>
<text x="301.10" y="292.60" font-family="Liberation Serif" font-size="5.3" text-anchor="middle" fill="#222" ><tspan font-style="italic">P</tspan>=0.902</text>
<text x="253.62" y="324.80" font-family="Liberation Serif" font-size="5.7" text-anchor="middle" fill="#000" font-weight="bold" letter-spacing="0.242" transform="rotate(-90 253.50 324.80)" >Expression</text>
<path d="M206.25 126.60V126.00M203.15 126.00H209.35" stroke="#8080ff" stroke-width="0.7" fill="none"/>
<path d="M224.85 124.80V124.20M221.75 124.20H227.95" stroke="#ff8080" stroke-width="0.7" fill="none"/>
<rect x="200.00" y="126.60" width="12.50" height="55.00" fill="#8080ff"/>
<rect x="218.60" y="124.80" width="12.50" height="56.80" fill="#ff8080"/>
<path d="M193.80 116.05V182.05M193.35 181.60H237.40M190.70 181.60H193.80M190.70 165.32H193.80M190.70 149.05H193.80M190.70 132.78H193.80M190.70 116.50H193.80M206.25 181.60v2.3M224.85 181.60v2.3" stroke="#000" stroke-width="0.9" fill="none"/>
<text x="190.00" y="183.50" font-family="Liberation Sans" font-size="5.3" text-anchor="end" fill="#000" font-weight="bold" >0</text>
<text x="190.00" y="167.22" font-family="Liberation Sans" font-size="5.3" text-anchor="end" fill="#000" font-weight="bold" >25</text>
<text x="190.00" y="150.95" font-family="Liberation Sans" font-size="5.3" text-anchor="end" fill="#000" font-weight="bold" >50</text>
<text x="190.00" y="134.68" font-family="Liberation Sans" font-size="5.3" text-anchor="end" fill="#000" font-weight="bold" >75</text>
<text x="190.00" y="118.40" font-family="Liberation Sans" font-size="5.3" text-anchor="end" fill="#000" font-weight="bold" >100</text>
<text x="206.25" y="190.30" font-family="Liberation Serif" font-size="5.4" text-anchor="middle" fill="#000" font-weight="bold" >Pea</text>
<text x="224.85" y="190.30" font-family="Liberation Serif" font-size="5.4" text-anchor="middle" fill="#000" font-weight="bold" >Corn</text>
<text x="215.75" y="108.40" font-family="Liberation Serif" font-size="6.6" text-anchor="middle" fill="#000" font-weight="bold" letter-spacing="0.497" >Lys</text>
<text x="215.50" y="117.10" font-family="Liberation Serif" font-size="5.3" text-anchor="middle" fill="#222" ><tspan font-style="italic">P</tspan>=0.003</text>
<text x="179.83" y="149.55" font-family="Liberation Serif" font-size="5.7" text-anchor="middle" fill="#000" font-weight="bold" letter-spacing="0.659" transform="rotate(-90 179.50 149.55)" >Ileal amino acid digestibility</text>
<text x="206.25" y="125.90" font-family="Liberation Serif" font-size="5.3" text-anchor="middle" fill="#000" >b</text>
<text x="224.85" y="123.90" font-family="Liberation Serif" font-size="5.3" text-anchor="middle" fill="#000" >a</text>
<path d="M282.35 126.00V125.40M279.25 125.40H285.45" stroke="#8080ff" stroke-width="0.7" fill="none"/>
<path d="M301.15 123.00V122.40M298.05 122.40H304.25" stroke="#ff8080" stroke-width="0.7" fill="none"/>
<rect x="276.10" y="126.00" width="12.50" height="55.60" fill="#8080ff"/>
<rect x="294.90" y="123.00" width="12.50" height="58.60" fill="#ff8080"/>
<path d="M269.90 116.05V182.05M269.45 181.60H314.00M266.80 181.60H269.90M266.80 165.32H269.90M266.80 149.05H269.90M266.80 132.78H269.90M266.80 116.50H269.90M282.35 181.60v2.3M301.15 181.60v2.3" stroke="#000" stroke-width="0.9" fill="none"/>
<text x="266.10" y="183.50" font-family="Liberation Sans" font-size="5.3" text-anchor="end" fill="#000" font-weight="bold" >0</text>
<text x="266.10" y="167.22" font-family="Liberation Sans" font-size="5.3" text-anchor="end" fill="#000" font-weight="bold" >25</text>
<text x="266.10" y="150.95" font-family="Liberation Sans" font-size="5.3" text-anchor="end" fill="#000" font-weight="bold" >50</text>
<text x="266.10" y="134.68" font-family="Liberation Sans" font-size="5.3" text-anchor="end" fill="#000" font-weight="bold" >75</text>
<text x="266.10" y="118.40" font-family="Liberation Sans" font-size="5.3" text-anchor="end" fill="#000" font-weight="bold" >100</text>
<text x="282.35" y="190.30" font-family="Liberation Serif" font-size="5.4" text-anchor="middle" fill="#000" font-weight="bold" >Pea</text>
<text x="301.15" y="190.30" font-family="Liberation Serif" font-size="5.4" text-anchor="middle" fill="#000" font-weight="bold" >Corn</text>
<text x="291.79" y="108.40" font-family="Liberation Serif" font-size="6.6" text-anchor="middle" fill="#000" font-weight="bold" letter-spacing="0.379" >Tyr</text>
<text x="291.60" y="117.10" font-family="Liberation Serif" font-size="5.3" text-anchor="middle" fill="#222" ><tspan font-style="italic">P</tspan>=0.034</text>
<text x="255.23" y="149.55" font-family="Liberation Serif" font-size="5.7" text-anchor="middle" fill="#000" font-weight="bold" letter-spacing="0.659" transform="rotate(-90 254.90 149.55)" >Ileal amino acid digestibility</text>
<text x="282.35" y="125.30" font-family="Liberation Serif" font-size="5.3" text-anchor="middle" fill="#000" >b</text>
<text x="301.15" y="122.30" font-family="Liberation Serif" font-size="5.3" text-anchor="middle" fill="#000" >a</text>
<path d="M357.80 127.00V126.40M354.70 126.40H360.90" stroke="#8080ff" stroke-width="0.7" fill="none"/>
<path d="M376.35 124.40V123.80M373.25 123.80H379.45" stroke="#ff8080" stroke-width="0.7" fill="none"/>
<rect x="351.60" y="127.00" width="12.40" height="54.60" fill="#8080ff"/>
<rect x="370.10" y="124.40" width="12.50" height="57.20" fill="#ff8080"/>
<path d="M345.20 116.05V182.05M344.75 181.60H389.00M342.10 181.60H345.20M342.10 165.32H345.20M342.10 149.05H345.20M342.10 132.78H345.20M342.10 116.50H345.20M357.80 181.60v2.3M376.35 181.60v2.3" stroke="#000" stroke-width="0.9" fill="none"/>
<text x="341.40" y="183.50" font-family="Liberation Sans" font-size="5.3" text-anchor="end" fill="#000" font-weight="bold" >0</text>
<text x="341.40" y="167.22" font-family="Liberation Sans" font-size="5.3" text-anchor="end" fill="#000" font-weight="bold" >25</text>
<text x="341.40" y="150.95" font-family="Liberation Sans" font-size="5.3" text-anchor="end" fill="#000" font-weight="bold" >50</text>
<text x="341.40" y="134.68" font-family="Liberation Sans" font-size="5.3" text-anchor="end" fill="#000" font-weight="bold" >75</text>
<text x="341.40" y="118.40" font-family="Liberation Sans" font-size="5.3" text-anchor="end" fill="#000" font-weight="bold" >100</text>
<text x="357.80" y="190.30" font-family="Liberation Serif" font-size="5.4" text-anchor="middle" fill="#000" font-weight="bold" >Pea</text>
<text x="376.35" y="190.30" font-family="Liberation Serif" font-size="5.4" text-anchor="middle" fill="#000" font-weight="bold" >Corn</text>
<text x="366.92" y="108.40" font-family="Liberation Serif" font-size="6.6" text-anchor="middle" fill="#000" font-weight="bold" letter-spacing="0.049" >Leu</text>
<text x="366.90" y="117.10" font-family="Liberation Serif" font-size="5.3" text-anchor="middle" fill="#222" ><tspan font-style="italic">P</tspan>=0.007</text>
<text x="330.83" y="149.55" font-family="Liberation Serif" font-size="5.7" text-anchor="middle" fill="#000" font-weight="bold" letter-spacing="0.659" transform="rotate(-90 330.50 149.55)" >Ileal amino acid digestibility</text>
<text x="357.80" y="126.30" font-family="Liberation Serif" font-size="5.3" text-anchor="middle" fill="#000" >b</text>
<text x="376.35" y="123.70" font-family="Liberation Serif" font-size="5.3" text-anchor="middle" fill="#000" >a</text>
<path d="M212.60 230.00V229.40M209.50 229.40H215.70" stroke="#8080ff" stroke-width="0.7" fill="none"/>
<path d="M231.05 228.00V227.40M227.95 227.40H234.15" stroke="#ff8080" stroke-width="0.7" fill="none"/>
<rect x="206.40" y="230.00" width="12.40" height="53.00" fill="#8080ff"/>
<rect x="224.80" y="228.00" width="12.50" height="55.00" fill="#ff8080"/>
<path d="M200.30 217.15V283.45M199.85 283.00H243.40M197.20 283.00H200.30M197.20 266.65H200.30M197.20 250.30H200.30M197.20 233.95H200.30M197.20 217.60H200.30M212.60 283.00v2.3M231.05 283.00v2.3" stroke="#000" stroke-width="0.9" fill="none"/>
<text x="196.50" y="284.90" font-family="Liberation Sans" font-size="5.3" text-anchor="end" fill="#000" font-weight="bold" >0</text>
<text x="196.50" y="268.55" font-family="Liberation Sans" font-size="5.3" text-anchor="end" fill="#000" font-weight="bold" >25</text>
<text x="196.50" y="252.20" font-family="Liberation Sans" font-size="5.3" text-anchor="end" fill="#000" font-weight="bold" >50</text>
<text x="196.50" y="235.85" font-family="Liberation Sans" font-size="5.3" text-anchor="end" fill="#000" font-weight="bold" >75</text>
<text x="196.50" y="219.50" font-family="Liberation Sans" font-size="5.3" text-anchor="end" fill="#000" font-weight="bold" >100</text>
<text x="212.60" y="291.70" font-family="Liberation Serif" font-size="5.4" text-anchor="middle" fill="#000" font-weight="bold" >Pea</text>
<text x="231.05" y="291.70" font-family="Liberation Serif" font-size="5.4" text-anchor="middle" fill="#000" font-weight="bold" >Corn</text>
<text x="222.02" y="209.50" font-family="Liberation Serif" font-size="6.6" text-anchor="middle" fill="#000" font-weight="bold" letter-spacing="0.047" >Asp</text>
<text x="222.00" y="218.20" font-family="Liberation Serif" font-size="5.3" text-anchor="middle" fill="#222" ><tspan font-style="italic">P</tspan>=0.014</text>
<text x="185.63" y="250.80" font-family="Liberation Serif" font-size="5.7" text-anchor="middle" fill="#000" font-weight="bold" letter-spacing="0.659" transform="rotate(-90 185.30 250.80)" >Ileal amino acid digestibility</text>
<text x="212.60" y="229.30" font-family="Liberation Serif" font-size="5.3" text-anchor="middle" fill="#000" >b</text>
<text x="231.05" y="227.30" font-family="Liberation Serif" font-size="5.3" text-anchor="middle" fill="#000" >a</text>
<path d="M565.65 169.60V169.00M562.55 169.00H568.75" stroke="#8080ff" stroke-width="0.7" fill="none"/>
<path d="M584.45 167.40V166.80M581.35 166.80H587.55" stroke="#ff8080" stroke-width="0.7" fill="none"/>
<rect x="559.40" y="169.60" width="12.50" height="53.10" fill="#8080ff"/>
<rect x="578.20" y="167.40" width="12.50" height="55.30" fill="#ff8080"/>
<path d="M552.80 156.95V223.15M552.35 222.70H597.00M549.70 222.70H552.80M549.70 206.38H552.80M549.70 190.05H552.80M549.70 173.72H552.80M549.70 157.40H552.80M565.65 222.70v2.3M584.45 222.70v2.3" stroke="#000" stroke-width="0.9" fill="none"/>
<text x="549.00" y="224.60" font-family="Liberation Sans" font-size="5.3" text-anchor="end" fill="#000" font-weight="bold" >0</text>
<text x="549.00" y="208.28" font-family="Liberation Sans" font-size="5.3" text-anchor="end" fill="#000" font-weight="bold" >25</text>
<text x="549.00" y="191.95" font-family="Liberation Sans" font-size="5.3" text-anchor="end" fill="#000" font-weight="bold" >50</text>
<text x="549.00" y="175.62" font-family="Liberation Sans" font-size="5.3" text-anchor="end" fill="#000" font-weight="bold" >75</text>
<text x="549.00" y="159.30" font-family="Liberation Sans" font-size="5.3" text-anchor="end" fill="#000" font-weight="bold" >100</text>
<text x="565.65" y="231.40" font-family="Liberation Serif" font-size="5.4" text-anchor="middle" fill="#000" font-weight="bold" >Pea</text>
<text x="584.45" y="231.40" font-family="Liberation Serif" font-size="5.4" text-anchor="middle" fill="#000" font-weight="bold" >Corn</text>
<text x="574.84" y="149.30" font-family="Liberation Serif" font-size="6.6" text-anchor="middle" fill="#000" font-weight="bold" letter-spacing="0.685" >Ser</text>
<text x="574.50" y="158.00" font-family="Liberation Serif" font-size="5.3" text-anchor="middle" fill="#222" ><tspan font-style="italic">P</tspan>=0.032</text>
<text x="539.83" y="190.55" font-family="Liberation Serif" font-size="5.7" text-anchor="middle" fill="#000" font-weight="bold" letter-spacing="0.659" transform="rotate(-90 539.50 190.55)" >Ileal amino acid digestibility</text>
<text x="565.65" y="168.90" font-family="Liberation Serif" font-size="5.3" text-anchor="middle" fill="#000" >b</text>
<text x="584.45" y="166.70" font-family="Liberation Serif" font-size="5.3" text-anchor="middle" fill="#000" >a</text>
<path d="M642.40 173.00V172.40M639.30 172.40H645.50" stroke="#8080ff" stroke-width="0.7" fill="none"/>
<path d="M661.15 170.00V169.40M658.05 169.40H664.25" stroke="#ff8080" stroke-width="0.7" fill="none"/>
<rect x="636.10" y="173.00" width="12.60" height="49.70" fill="#8080ff"/>
<rect x="654.90" y="170.00" width="12.50" height="52.70" fill="#ff8080"/>
<path d="M630.00 156.95V223.15M629.55 222.70H674.00M626.90 222.70H630.00M626.90 206.38H630.00M626.90 190.05H630.00M626.90 173.72H630.00M626.90 157.40H630.00M642.40 222.70v2.3M661.15 222.70v2.3" stroke="#000" stroke-width="0.9" fill="none"/>
<text x="626.20" y="224.60" font-family="Liberation Sans" font-size="5.3" text-anchor="end" fill="#000" font-weight="bold" >0</text>
<text x="626.20" y="208.28" font-family="Liberation Sans" font-size="5.3" text-anchor="end" fill="#000" font-weight="bold" >25</text>
<text x="626.20" y="191.95" font-family="Liberation Sans" font-size="5.3" text-anchor="end" fill="#000" font-weight="bold" >50</text>
<text x="626.20" y="175.62" font-family="Liberation Sans" font-size="5.3" text-anchor="end" fill="#000" font-weight="bold" >75</text>
<text x="626.20" y="159.30" font-family="Liberation Sans" font-size="5.3" text-anchor="end" fill="#000" font-weight="bold" >100</text>
<text x="642.40" y="231.40" font-family="Liberation Serif" font-size="5.4" text-anchor="middle" fill="#000" font-weight="bold" >Pea</text>
<text x="661.15" y="231.40" font-family="Liberation Serif" font-size="5.4" text-anchor="middle" fill="#000" font-weight="bold" >Corn</text>
<text x="651.96" y="149.30" font-family="Liberation Serif" font-size="6.6" text-anchor="middle" fill="#000" font-weight="bold" letter-spacing="0.516" >Gly</text>
<text x="651.70" y="158.00" font-family="Liberation Serif" font-size="5.3" text-anchor="middle" fill="#222" ><tspan font-style="italic">P</tspan>=0.013</text>
<text x="616.03" y="190.55" font-family="Liberation Serif" font-size="5.7" text-anchor="middle" fill="#000" font-weight="bold" letter-spacing="0.659" transform="rotate(-90 615.70 190.55)" >Ileal amino acid digestibility</text>
<text x="642.40" y="172.30" font-family="Liberation Serif" font-size="5.3" text-anchor="middle" fill="#000" >b</text>
<text x="661.15" y="169.30" font-family="Liberation Serif" font-size="5.3" text-anchor="middle" fill="#000" >a</text>
<path d="M644.65 297.40V296.80M641.55 296.80H647.75" stroke="#8080ff" stroke-width="0.7" fill="none"/>
<path d="M663.25 293.00V292.40M660.15 292.40H666.35" stroke="#ff8080" stroke-width="0.7" fill="none"/>
<rect x="638.40" y="297.40" width="12.50" height="51.20" fill="#8080ff"/>
<rect x="657.00" y="293.00" width="12.50" height="55.60" fill="#ff8080"/>
<path d="M632.30 283.15V349.05M631.85 348.60H676.00M629.20 348.60H632.30M629.20 332.35H632.30M629.20 316.10H632.30M629.20 299.85H632.30M629.20 283.60H632.30M644.65 348.60v2.3M663.25 348.60v2.3" stroke="#000" stroke-width="0.9" fill="none"/>
<text x="628.50" y="350.50" font-family="Liberation Sans" font-size="5.3" text-anchor="end" fill="#000" font-weight="bold" >0</text>
<text x="628.50" y="334.25" font-family="Liberation Sans" font-size="5.3" text-anchor="end" fill="#000" font-weight="bold" >25</text>
<text x="628.50" y="318.00" font-family="Liberation Sans" font-size="5.3" text-anchor="end" fill="#000" font-weight="bold" >50</text>
<text x="628.50" y="301.75" font-family="Liberation Sans" font-size="5.3" text-anchor="end" fill="#000" font-weight="bold" >75</text>
<text x="628.50" y="285.50" font-family="Liberation Sans" font-size="5.3" text-anchor="end" fill="#000" font-weight="bold" >100</text>
<text x="644.65" y="357.30" font-family="Liberation Serif" font-size="5.4" text-anchor="middle" fill="#000" font-weight="bold" >Pea</text>
<text x="663.25" y="357.30" font-family="Liberation Serif" font-size="5.4" text-anchor="middle" fill="#000" font-weight="bold" >Corn</text>
<text x="654.19" y="275.50" font-family="Liberation Serif" font-size="6.6" text-anchor="middle" fill="#000" font-weight="bold" letter-spacing="0.379" >Pro</text>
<text x="654.00" y="284.20" font-family="Liberation Serif" font-size="5.3" text-anchor="middle" fill="#222" ><tspan font-style="italic">P</tspan>=0.010</text>
<text x="618.23" y="316.60" font-family="Liberation Serif" font-size="5.7" text-anchor="middle" fill="#000" font-weight="bold" letter-spacing="0.659" transform="rotate(-90 617.90 316.60)" >Ileal amino acid digestibility</text>
<text x="644.65" y="296.70" font-family="Liberation Serif" font-size="5.3" text-anchor="middle" fill="#000" >b</text>
<text x="663.25" y="292.30" font-family="Liberation Serif" font-size="5.3" text-anchor="middle" fill="#000" >a</text>
<path d="M644.65 383.60V383.00M641.55 383.00H647.75" stroke="#8080ff" stroke-width="0.7" fill="none"/>
<path d="M663.25 383.00V382.40M660.15 382.40H666.35" stroke="#ff8080" stroke-width="0.7" fill="none"/>
<rect x="638.40" y="383.60" width="12.50" height="59.60" fill="#8080ff"/>
<rect x="657.00" y="383.00" width="12.50" height="60.20" fill="#ff8080"/>
<path d="M632.30 377.15V443.65M631.85 443.20H676.00M629.20 443.20H632.30M629.20 426.80H632.30M629.20 410.40H632.30M629.20 394.00H632.30M629.20 377.60H632.30M644.65 443.20v2.3M663.25 443.20v2.3" stroke="#000" stroke-width="0.9" fill="none"/>
<text x="628.50" y="445.10" font-family="Liberation Sans" font-size="5.3" text-anchor="end" fill="#000" font-weight="bold" >0</text>
<text x="628.50" y="428.70" font-family="Liberation Sans" font-size="5.3" text-anchor="end" fill="#000" font-weight="bold" >25</text>
<text x="628.50" y="412.30" font-family="Liberation Sans" font-size="5.3" text-anchor="end" fill="#000" font-weight="bold" >50</text>
<text x="628.50" y="395.90" font-family="Liberation Sans" font-size="5.3" text-anchor="end" fill="#000" font-weight="bold" >75</text>
<text x="628.50" y="379.50" font-family="Liberation Sans" font-size="5.3" text-anchor="end" fill="#000" font-weight="bold" >100</text>
<text x="644.65" y="451.90" font-family="Liberation Serif" font-size="5.4" text-anchor="middle" fill="#000" font-weight="bold" >Pea</text>
<text x="663.25" y="451.90" font-family="Liberation Serif" font-size="5.4" text-anchor="middle" fill="#000" font-weight="bold" >Corn</text>
<text x="653.88" y="369.50" font-family="Liberation Serif" font-size="6.6" text-anchor="middle" fill="#000" font-weight="bold" letter-spacing="-0.248" >Arg</text>
<text x="654.00" y="377.30" font-family="Liberation Serif" font-size="5.3" text-anchor="middle" fill="#222" ><tspan font-style="italic">P</tspan>=0.049</text>
<text x="618.23" y="410.90" font-family="Liberation Serif" font-size="5.7" text-anchor="middle" fill="#000" font-weight="bold" letter-spacing="0.659" transform="rotate(-90 617.90 410.90)" >Ileal amino acid digestibility</text>
<text x="644.65" y="383.10" font-family="Liberation Serif" font-size="5.3" text-anchor="middle" fill="#000" >b</text>
<text x="663.25" y="382.50" font-family="Liberation Serif" font-size="5.3" text-anchor="middle" fill="#000" >a</text>
<path d="M153.85 388.00V387.40M150.75 387.40H156.95" stroke="#8080ff" stroke-width="0.7" fill="none"/>
<path d="M172.50 386.00V385.40M169.40 385.40H175.60" stroke="#ff8080" stroke-width="0.7" fill="none"/>
<rect x="147.60" y="388.00" width="12.50" height="54.80" fill="#8080ff"/>
<rect x="166.20" y="386.00" width="12.60" height="56.80" fill="#ff8080"/>
<path d="M141.40 376.95V443.25M140.95 442.80H185.60M138.30 442.80H141.40M138.30 426.45H141.40M138.30 410.10H141.40M138.30 393.75H141.40M138.30 377.40H141.40M153.85 442.80v2.3M172.50 442.80v2.3" stroke="#000" stroke-width="0.9" fill="none"/>
<text x="137.60" y="444.70" font-family="Liberation Sans" font-size="5.3" text-anchor="end" fill="#000" font-weight="bold" >0</text>
<text x="137.60" y="428.35" font-family="Liberation Sans" font-size="5.3" text-anchor="end" fill="#000" font-weight="bold" >25</text>
<text x="137.60" y="412.00" font-family="Liberation Sans" font-size="5.3" text-anchor="end" fill="#000" font-weight="bold" >50</text>
<text x="137.60" y="395.65" font-family="Liberation Sans" font-size="5.3" text-anchor="end" fill="#000" font-weight="bold" >75</text>
<text x="137.60" y="379.30" font-family="Liberation Sans" font-size="5.3" text-anchor="end" fill="#000" font-weight="bold" >100</text>
<text x="153.85" y="451.50" font-family="Liberation Serif" font-size="5.4" text-anchor="middle" fill="#000" font-weight="bold" >Pea</text>
<text x="172.50" y="451.50" font-family="Liberation Serif" font-size="5.4" text-anchor="middle" fill="#000" font-weight="bold" >Corn</text>
<text x="164.14" y="369.30" font-family="Liberation Serif" font-size="6.6" text-anchor="middle" fill="#000" font-weight="bold" letter-spacing="2.084" >Ile</text>
<text x="163.10" y="378.00" font-family="Liberation Serif" font-size="5.3" text-anchor="middle" fill="#222" ><tspan font-style="italic">P</tspan>=0.019</text>
<text x="127.63" y="410.60" font-family="Liberation Serif" font-size="5.7" text-anchor="middle" fill="#000" font-weight="bold" letter-spacing="0.659" transform="rotate(-90 127.30 410.60)" >Ileal amino acid digestibility</text>
<text x="153.85" y="387.30" font-family="Liberation Serif" font-size="5.3" text-anchor="middle" fill="#000" >b</text>
<text x="172.50" y="385.30" font-family="Liberation Serif" font-size="5.3" text-anchor="middle" fill="#000" >a</text>
<path d="M225.85 390.00V389.40M222.75 389.40H228.95" stroke="#8080ff" stroke-width="0.7" fill="none"/>
<path d="M244.30 387.00V386.40M241.20 386.40H247.40" stroke="#ff8080" stroke-width="0.7" fill="none"/>
<rect x="219.60" y="390.00" width="12.50" height="52.80" fill="#8080ff"/>
<rect x="238.00" y="387.00" width="12.60" height="55.80" fill="#ff8080"/>
<path d="M213.40 376.95V443.25M212.95 442.80H257.00M210.30 442.80H213.40M210.30 426.45H213.40M210.30 410.10H213.40M210.30 393.75H213.40M210.30 377.40H213.40M225.85 442.80v2.3M244.30 442.80v2.3" stroke="#000" stroke-width="0.9" fill="none"/>
<text x="209.60" y="444.70" font-family="Liberation Sans" font-size="5.3" text-anchor="end" fill="#000" font-weight="bold" >0</text>
<text x="209.60" y="428.35" font-family="Liberation Sans" font-size="5.3" text-anchor="end" fill="#000" font-weight="bold" >25</text>
<text x="209.60" y="412.00" font-family="Liberation Sans" font-size="5.3" text-anchor="end" fill="#000" font-weight="bold" >50</text>
<text x="209.60" y="395.65" font-family="Liberation Sans" font-size="5.3" text-anchor="end" fill="#000" font-weight="bold" >75</text>
<text x="209.60" y="379.30" font-family="Liberation Sans" font-size="5.3" text-anchor="end" fill="#000" font-weight="bold" >100</text>
<text x="225.85" y="451.50" font-family="Liberation Serif" font-size="5.4" text-anchor="middle" fill="#000" font-weight="bold" >Pea</text>
<text x="244.30" y="451.50" font-family="Liberation Serif" font-size="5.4" text-anchor="middle" fill="#000" font-weight="bold" >Corn</text>
<text x="235.50" y="369.30" font-family="Liberation Serif" font-size="6.6" text-anchor="middle" fill="#000" font-weight="bold" letter-spacing="0.803" >Val</text>
<text x="235.10" y="378.00" font-family="Liberation Serif" font-size="5.3" text-anchor="middle" fill="#222" ><tspan font-style="italic">P</tspan>=0.010</text>
<text x="199.23" y="410.60" font-family="Liberation Serif" font-size="5.7" text-anchor="middle" fill="#000" font-weight="bold" letter-spacing="0.659" transform="rotate(-90 198.90 410.60)" >Ileal amino acid digestibility</text>
<text x="225.85" y="389.30" font-family="Liberation Serif" font-size="5.3" text-anchor="middle" fill="#000" >b</text>
<text x="244.30" y="386.30" font-family="Liberation Serif" font-size="5.3" text-anchor="middle" fill="#000" >a</text>
<rect x="171.70" y="101.30" width="222.40" height="93.20" fill="none" stroke="#0d0dff" stroke-width="1.25" stroke-dasharray="4.1 2.1"/>
<rect x="172.30" y="200.50" width="75.00" height="94.00" fill="none" stroke="#0d0dff" stroke-width="1.25" stroke-dasharray="4.1 2.1"/>
<rect x="526.60" y="140.00" width="154.40" height="98.60" fill="none" stroke="#0d0dff" stroke-width="1.8" stroke-dasharray="3.4 2.9"/>
<rect x="609.70" y="265.80" width="74.30" height="194.20" fill="none" stroke="#0d0dff" stroke-width="1.3" stroke-dasharray="4.1 2.1"/>
<path d="M264.2 456.2H117.0V361.8H264.2V456.2C280 462.5 300 466.5 330 468.6C360 470.1 390 470.4 419 470.4" fill="none" stroke="#0d0dff" stroke-width="1.75" stroke-dasharray="3.4 2.8"/>
<path d="M425.8 470.4L419.4 467.7V473.1Z" fill="#0d0dff"/>
<path d="M412.90 49.00L428.80 49.00" stroke="#000" stroke-width="1.5" fill="none"/>
<path d="M434.30 49.00L427.80 51.60L427.80 46.40Z" fill="#000"/>
<path d="M523.60 49.00L539.70 49.00" stroke="#000" stroke-width="1.5" fill="none"/>
<path d="M545.20 49.00L538.70 51.60L538.70 46.40Z" fill="#000"/>
<path d="M581.60 91.00L514.25 112.06" stroke="#000" stroke-width="1.5" fill="none"/>
<path d="M509.00 113.70L514.43 109.28L515.98 114.24Z" fill="#000"/>
<path d="M466.40 200.30L466.40 207.90" stroke="#000" stroke-width="1.5" fill="none"/>
<path d="M466.40 213.40L463.80 206.90L469.00 206.90Z" fill="#000"/>
<path d="M483.50 268.20L503.92 275.46" stroke="#000" stroke-width="1.5" fill="none"/>
<path d="M509.10 277.30L502.10 277.57L503.85 272.67Z" fill="#000"/>
<path d="M556.00 349.60L556.00 356.30" stroke="#000" stroke-width="1.5" fill="none"/>
<path d="M556.00 361.80L553.40 355.30L558.60 355.30Z" fill="#000"/>
<path d="M503.00 413.00L489.50 413.00" stroke="#000" stroke-width="1.5" fill="none"/>
<path d="M484.00 413.00L490.50 410.40L490.50 415.60Z" fill="#000"/>
<path d="M414.50 413.00L401.60 413.00" stroke="#000" stroke-width="1.5" fill="none"/>
<path d="M396.10 413.00L402.60 410.40L402.60 415.60Z" fill="#000"/>
<path d="M323.60 401.40L312.42 385.13" stroke="#000" stroke-width="1.5" fill="none"/>
<path d="M309.30 380.60L315.12 384.48L310.84 387.43Z" fill="#000"/>
<path d="M317.20 302.20L325.56 290.74" stroke="#000" stroke-width="1.5" fill="none"/>
<path d="M328.80 286.30L327.07 293.08L322.87 290.02Z" fill="#000"/>
<path d="M387.30 263.50L398.11 259.72" stroke="#000" stroke-width="1.5" fill="none"/>
<path d="M403.30 257.90L398.02 262.50L396.31 257.59Z" fill="#000"/>
<path d="M394.60 147.60L414.00 147.60" stroke="#0d0dff" stroke-width="1.3" fill="none" stroke-dasharray="3.7 2.5"/>
<path d="M419.20 147.60L413.00 150.00L413.00 145.20Z" fill="#0d0dff"/>
<path d="M605.30 126.90L605.30 103.70" stroke="#0d0dff" stroke-width="1.5" fill="none" stroke-dasharray="3.4 2.9"/>
<path d="M605.30 98.50L607.95 104.70L602.65 104.70Z" fill="#0d0dff"/>
<path d="M253.90 254.00L313.22 258.78" stroke="#0d0dff" stroke-width="1.25" fill="none" stroke-dasharray="3.7 2.5"/>
<path d="M318.40 259.20L312.04 260.99L312.40 256.41Z" fill="#0d0dff"/>
<path d="M601.60 406.00L583.99 411.14" stroke="#0d0dff" stroke-width="1.3" fill="none" stroke-dasharray="3.7 2.5"/>
<path d="M579.00 412.60L584.28 408.56L585.62 413.17Z" fill="#0d0dff"/>
<rect x="325.5" y="266.2" width="66.4" height="13.2" fill="#fff" stroke="#000" stroke-width="1.35"/>
<text x="358.92" y="276.00" font-family="Liberation Serif" font-size="8.3" text-anchor="middle" fill="#3030ff" font-weight="bold" letter-spacing="0.232" >Oxaloacetic acid</text>
<text x="430.52" y="330.00" font-family="Liberation Serif" font-size="12.2" text-anchor="middle" fill="#ff0000" font-weight="bold" letter-spacing="0.642" >TCA Cycle</text>
</svg></body></html>
